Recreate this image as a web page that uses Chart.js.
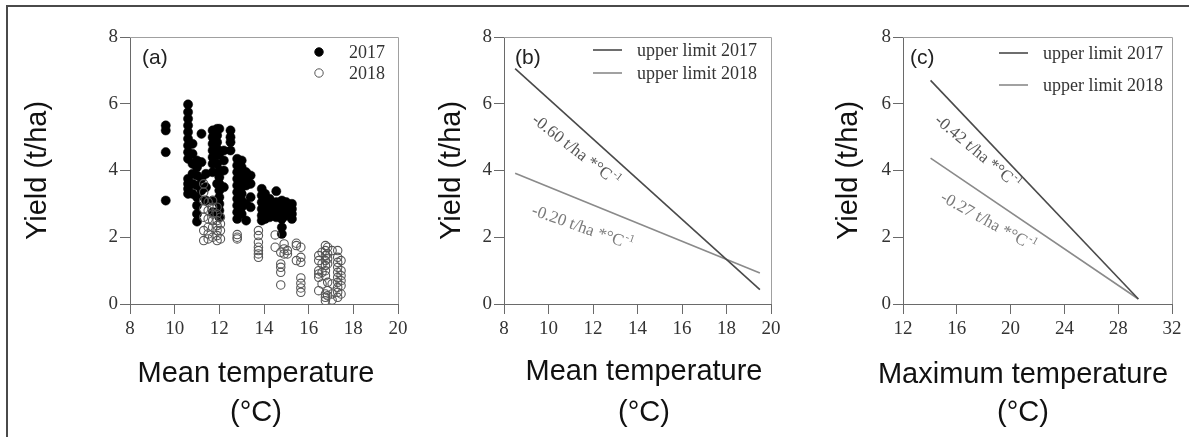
<!DOCTYPE html>
<html>
<head>
<meta charset="utf-8">
<script src="https://cdn.jsdelivr.net/npm/chart.js@4.4.0/dist/chart.umd.min.js"></script>
<style>
html,body{margin:0;padding:0;background:#fff;}
#wrap{position:relative;width:1189px;height:437px;overflow:hidden;background:#fff;}
#frame{position:absolute;left:6px;top:5px;width:1200px;height:450px;border-left:2px solid #4a4a4a;border-top:2px solid #4a4a4a;}
canvas{position:absolute;top:0;}
</style>
</head>
<body>
<div id="wrap">
<div id="frame"></div>
<canvas id="ca" width="420" height="437" style="left:8px"></canvas>
<canvas id="cb" width="380" height="437" style="left:420px"></canvas>
<canvas id="cc" width="374" height="437" style="left:815px"></canvas>
</div>
<script>
// ---- tick labels ----
const yTicks = [0, 2, 4, 6, 8];
const xTicksMean = [8, 10, 12, 14, 16, 18, 20];
const xTicksMax = [12, 16, 20, 24, 28, 32];

// ---- panel (a): yield vs mean temperature, columns of points ----
const colT2017 = [9.6, 10.6, 10.8, 11.0, 11.2, 11.4, 11.7, 11.9, 12.0, 12.2, 12.5, 12.8, 13.0, 13.2, 13.4, 13.9, 14.05, 14.25, 14.55, 14.8, 15.0, 15.25];
const colY2017 = [
  [5.35, 5.2, 4.55, 3.1],
  [5.98, 5.75, 5.55, 5.35, 5.15, 4.95, 4.75, 4.55, 4.35, 3.75, 3.6, 3.45, 3.3],
  [4.8, 4.5, 4.2, 3.9, 3.6, 3.3],
  [4.3, 4.1, 3.85, 3.55, 3.2, 2.95, 2.7, 2.47],
  [5.1, 4.25, 3.75, 3.4],
  [3.9, 3.5, 3.1],
  [5.2, 5.0, 4.8, 4.6, 4.4, 4.2, 3.95, 3.1, 2.75],
  [5.25, 5.05, 4.85, 4.65, 4.45, 4.2, 3.6],
  [5.25, 4.5, 4.0, 3.8, 3.6, 3.4, 3.2, 3.0, 2.8, 2.6],
  [4.6, 4.3, 4.0, 3.5],
  [5.2, 5.0, 4.85, 4.6],
  [4.35, 4.15, 3.95, 3.75, 3.55, 3.35, 3.15, 2.95, 2.75, 2.55],
  [4.3, 4.1, 3.9, 3.7, 3.5, 3.3, 3.1, 2.9, 2.7],
  [3.95, 3.75, 3.55, 3.0, 2.5],
  [3.85, 3.6, 3.2, 2.9],
  [3.45, 3.25, 3.05, 2.85, 2.65, 2.5],
  [3.3, 3.1, 2.9, 2.7, 2.55],
  [3.15, 2.95, 2.75, 2.6],
  [3.38, 3.05, 2.85, 2.7, 2.6],
  [3.1, 2.9, 2.75, 2.55, 2.3, 2.1],
  [3.05, 2.85, 2.65],
  [3.0, 2.85, 2.7, 2.55]
];
const colT2018 = [11.3, 11.5, 11.7, 11.9, 12.05, 12.8, 13.75, 14.5, 14.75, 14.9, 15.05, 15.45, 15.65, 16.45, 16.6, 16.75, 16.85, 17.05, 17.3, 17.45];
const colY2018 = [
  [3.6, 3.35, 3.1, 2.85, 2.6, 2.2, 1.9],
  [3.05, 2.8, 2.55, 2.3, 2.1, 1.95],
  [3.1, 2.9, 2.7, 2.5, 2.3, 2.0],
  [2.9, 2.7, 2.5, 2.35, 2.2, 2.05, 1.9],
  [2.6, 2.4, 2.2, 1.95],
  [2.08, 2.0, 1.95],
  [2.2, 2.05, 1.85, 1.7, 1.6, 1.5, 1.4],
  [2.07, 1.7],
  [1.55, 1.2, 1.1, 0.95, 0.57],
  [1.8, 1.65, 1.5],
  [1.6, 1.5],
  [1.82, 1.75, 1.3],
  [1.7, 1.4, 1.25, 0.78, 0.62, 0.48, 0.35],
  [1.45, 1.3, 1.0, 0.9, 0.8, 0.4],
  [1.55, 1.2, 0.95, 0.6],
  [1.75, 1.6, 1.45, 1.3, 1.15, 1.0, 0.85, 0.3, 0.2, 0.1],
  [1.7, 1.5, 1.35, 1.2, 0.65, 0.4, 0.25],
  [1.6, 0.6, 0.3, 0.12],
  [1.6, 1.4, 1.25, 1.1, 0.95, 0.8, 0.65, 0.5, 0.35, 0.2],
  [1.3, 1.0, 0.85, 0.7, 0.55, 0.3]
];

// ---- panel (b): upper limit lines vs mean temperature ----
const meanLineT = [8.5, 19.5];
const upper2017Mean = [7.05, 0.43];
const upper2018Mean = [3.92, 0.93];
const slopeMean = ['-0.60 t/ha *°C', '-0.20 t/ha *°C'];

// ---- panel (c): upper limit lines vs maximum temperature ----
const maxLineT = [14.05, 29.5];
const upper2017Max = [6.7, 0.15];
const upper2018Max = [4.37, 0.15];
const slopeMax = ['-0.42 t/ha *°C', '-0.27 t/ha *°C'];

const seriesNames = ['2017', '2018'];
const lineNames = ['upper limit 2017', 'upper limit 2018'];

// ---- helpers ----
function columnsToPoints(ts, ys) {
  const pts = [];
  ts.forEach((t, i) => ys[i].forEach(v => pts.push({x: t, y: v})));
  return pts;
}
function pairPoints(xs, ys) { return xs.map((x, i) => ({x: x, y: ys[i]})); }

const SERIF = "'Liberation Serif', 'Times New Roman', serif";
const SANS = "'Liberation Sans', Arial, sans-serif";

Chart.defaults.font.family = SERIF;
Chart.defaults.font.size = 19;
Chart.defaults.color = '#333';

const decor = {
  id: 'decor',
  afterDraw(chart, args, o) {
    const ctx = chart.ctx, a = chart.chartArea;
    const xs = chart.scales.x, ys = chart.scales.y;
    ctx.save();
    // plot frame (top and right)
    ctx.strokeStyle = '#a0a0a0'; ctx.lineWidth = 1;
    ctx.beginPath();
    ctx.moveTo(a.left, Math.round(a.top) + 0.5);
    ctx.lineTo(Math.round(a.right) + 0.5, Math.round(a.top) + 0.5);
    ctx.lineTo(Math.round(a.right) + 0.5, a.bottom);
    ctx.stroke();
    // panel tag
    ctx.font = '21px ' + SANS; ctx.fillStyle = '#222';
    ctx.textBaseline = 'middle'; ctx.textAlign = 'left';
    ctx.fillText(o.tag, a.left + o.tagDx, a.top + 21);
    // legend
    ctx.font = '18px ' + SERIF;
    chart.data.datasets.forEach((ds, i) => {
      const ly = o.legendY[i];
      if (o.legendKind === 'point') {
        ctx.beginPath();
        ctx.arc(o.markX, ly, 4.2, 0, Math.PI * 2);
        if (ds.backgroundColor !== 'rgba(0,0,0,0)') { ctx.fillStyle = ds.backgroundColor; ctx.fill(); }
        ctx.strokeStyle = ds.borderColor; ctx.lineWidth = 1; ctx.stroke();
      } else {
        ctx.beginPath();
        ctx.moveTo(o.markX, ly); ctx.lineTo(o.markX + 29, ly);
        ctx.strokeStyle = ds.borderColor; ctx.lineWidth = ds.borderWidth; ctx.stroke();
      }
      ctx.fillStyle = '#333'; ctx.textAlign = 'left'; ctx.textBaseline = 'middle';
      ctx.fillText(ds.label, o.textX, ly + 1);
    });
    // slope annotations
    (o.notes || []).forEach(n => {
      const px = xs.getPixelForValue(n.x), py = ys.getPixelForValue(n.y);
      ctx.save();
      ctx.translate(px, py); ctx.rotate(n.angle * Math.PI / 180);
      ctx.font = '17px ' + SERIF;
      const w1 = ctx.measureText(n.text).width;
      ctx.font = '11px ' + SERIF;
      const w2 = ctx.measureText('-1').width;
      const x0 = -(w1 + w2) / 2;
      ctx.fillStyle = n.color; ctx.textAlign = 'left'; ctx.textBaseline = 'middle';
      ctx.font = '17px ' + SERIF;
      ctx.fillText(n.text, x0, 0);
      ctx.font = '11px ' + SERIF;
      ctx.fillText('-1', x0 + w1 + 1, -6);
      ctx.restore();
    });
    // x-axis title (two lines)
    ctx.font = '29px ' + SANS; ctx.fillStyle = '#111';
    ctx.textAlign = 'center'; ctx.textBaseline = 'middle';
    o.xTitle.forEach((t, i) => ctx.fillText(t, o.xTitleX, o.xTitleY[i]));
    ctx.restore();
  }
};

function scalesFor(xMin, xMax, xTicks, yWidth, titlePad) {
  const tickFont = {family: SERIF, size: 19};
  const grid = {display: true, drawOnChartArea: false, drawTicks: true, tickLength: 10, color: '#6a6a6a', lineWidth: 1};
  const border = {display: true, color: '#6a6a6a', width: 1};
  return {
    x: {
      type: 'linear', min: xMin, max: xMax,
      afterBuildTicks: s => { s.ticks = xTicks.map(v => ({value: v})); },
      afterFit: s => { s.height = 133; },
      ticks: {font: tickFont, color: '#333', padding: 4, maxRotation: 0, autoSkip: false},
      grid: grid, border: border
    },
    y: {
      type: 'linear', min: 0, max: 8,
      afterBuildTicks: s => { s.ticks = yTicks.map(v => ({value: v})); },
      afterFit: s => { s.width = yWidth; },
      ticks: {font: tickFont, color: '#333', padding: 2},
      grid: grid, border: border,
      title: {display: true, text: 'Yield (t/ha)', color: '#111',
              font: {family: SANS, size: 29, lineHeight: 1.2},
              padding: {top: titlePad, bottom: 0}}
    }
  };
}

function baseOptions(padRight, scales, decorOpts) {
  return {
    responsive: false, animation: false, devicePixelRatio: 1,
    layout: {padding: {left: 0, right: padRight, top: 37, bottom: 0}},
    scales: scales,
    plugins: {legend: {display: false}, tooltip: {enabled: false}, decor: decorOpts}
  };
}

// Panel (a)
new Chart(document.getElementById('ca'), {
  type: 'scatter',
  data: {datasets: [
    {label: seriesNames[0], data: columnsToPoints(colT2017, colY2017), order: 1,
     pointRadius: 4.6, backgroundColor: '#000', borderColor: '#000', borderWidth: 0.5},
    {label: seriesNames[1], data: columnsToPoints(colT2018, colY2018), order: 0,
     pointRadius: 4.2, backgroundColor: 'rgba(0,0,0,0)', borderColor: '#555', borderWidth: 1.1}
  ]},
  options: baseOptions(30, scalesFor(8, 20, xTicksMean, 122, 12.6), {
    tag: '(a)', tagDx: 12, legendKind: 'point', legendY: [52, 73], markX: 311, textX: 341,
    xTitle: ['Mean temperature', '(°C)'], xTitleX: 248, xTitleY: [374, 413]
  }),
  plugins: [decor]
});

// Panel (b)
new Chart(document.getElementById('cb'), {
  type: 'scatter',
  data: {datasets: [
    {label: lineNames[0], data: pairPoints(meanLineT, upper2017Mean), showLine: true, pointRadius: 0,
     borderColor: '#4a4a4a', backgroundColor: '#4a4a4a', borderWidth: 1.6},
    {label: lineNames[1], data: pairPoints(meanLineT, upper2018Mean), showLine: true, pointRadius: 0,
     borderColor: '#8a8a8a', backgroundColor: '#8a8a8a', borderWidth: 1.6}
  ]},
  options: baseOptions(29, scalesFor(8, 20, xTicksMean, 84, 14.6), {
    tag: '(b)', tagDx: 11, legendKind: 'line', legendY: [50, 73], markX: 173, textX: 217,
    notes: [
      {text: slopeMean[0], x: 11.2, y: 4.6, angle: 38, color: '#555'},
      {text: slopeMean[1], x: 11.5, y: 2.28, angle: 19.5, color: '#7a7a7a'}
    ],
    xTitle: ['Mean temperature', '(°C)'], xTitleX: 224, xTitleY: [372, 413]
  }),
  plugins: [decor]
});

// Panel (c)
new Chart(document.getElementById('cc'), {
  type: 'scatter',
  data: {datasets: [
    {label: lineNames[0], data: pairPoints(maxLineT, upper2017Max), showLine: true, pointRadius: 0,
     borderColor: '#4a4a4a', backgroundColor: '#4a4a4a', borderWidth: 1.6},
    {label: lineNames[1], data: pairPoints(maxLineT, upper2018Max), showLine: true, pointRadius: 0,
     borderColor: '#8a8a8a', backgroundColor: '#8a8a8a', borderWidth: 1.6}
  ]},
  options: baseOptions(17, scalesFor(12, 32, xTicksMax, 88, 16.6), {
    tag: '(c)', tagDx: 7, legendKind: 'line', legendY: [53, 85], markX: 184, textX: 228,
    notes: [
      {text: slopeMax[0], x: 17.5, y: 4.55, angle: 40, color: '#555'},
      {text: slopeMax[1], x: 18.3, y: 2.46, angle: 29, color: '#7a7a7a'}
    ],
    xTitle: ['Maximum temperature', '(°C)'], xTitleX: 208, xTitleY: [375, 413]
  }),
  plugins: [decor]
});
</script>
</body>
</html>
